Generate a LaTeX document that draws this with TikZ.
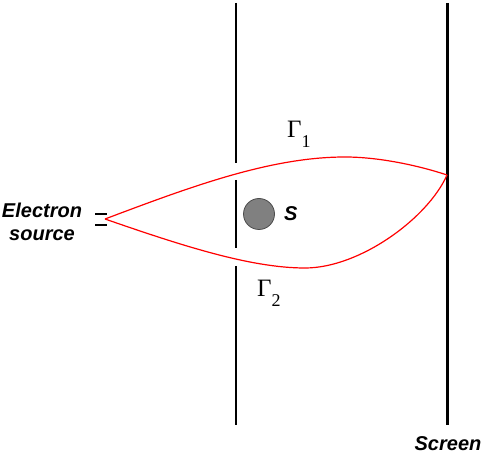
\documentclass[tikz,border=0pt]{standalone}
\usepackage{fontspec}
\usepackage{tikz}
\usetikzlibrary{positioning,calc}
\newfontfamily\labelfont{Liberation Sans}
\newfontfamily\greekfont{Liberation Serif}

\tikzset{
    wall/.style={line width=2pt, line cap=butt},
    screenwall/.style={line width=3pt},
    path/.style={red, line width=1.2pt},
    sansbold/.style={font=\labelfont\bfseries\itshape\fontsize{20}{23}\selectfont, inner sep=0pt},
    gammalabel/.style={font=\greekfont\fontsize{25}{25}\selectfont, inner sep=0pt, anchor=base west}
}

\begin{document}
\begin{tikzpicture}[x=1pt, y=-1pt]
    \useasboundingbox (0,0) rectangle (485,454);

    % Wall with two slits
    \draw[wall] (236,3) -- (236,163);
    \draw[wall] (236,180) -- (236,248);
    \draw[wall] (236,266) -- (236,425);

    % Screen
    \draw[screenwall] (447,3) -- (447,425);
    \node[sansbold, anchor=base] (screen) at (448,450) {Screen};

    % Electron source
    \draw[line width=2.5pt] (95,214) -- (107,214);
    \draw[line width=2.5pt] (95,225) -- (107,225);
    \coordinate (src) at (105,219);
    \node[sansbold, align=center, anchor=base] (source) at (42,241) {Electron\\source};

    % Obstacle S
    \node[circle, fill=black!50, draw=black!70, line width=0.8pt, minimum size=31pt, inner sep=0pt] (obst) at (259,214) {};
    \node[sansbold, right=9pt of obst] (slabel) {S};

    % Paths
    \coordinate (hit) at (447,175);
    \coordinate (top) at (345,157);
    \coordinate (bot) at (305,268);
    \draw[path] (src) .. controls (190,187) and (270,157) .. (top)
        .. controls (380,157) and (420,166) .. (hit);
    \draw[path] (src) .. controls (180,245) and (250,268) .. (bot)
        .. controls (360,268) and (428,218) .. (hit);

    % Path labels
    \node[gammalabel] (g1) at (287,138) {Γ\raisebox{-10pt}{\fontsize{18}{18}\selectfont 1}};
    \node[gammalabel] (g2) at (257,297) {Γ\raisebox{-10pt}{\fontsize{18}{18}\selectfont 2}};
\end{tikzpicture}
\end{document}
